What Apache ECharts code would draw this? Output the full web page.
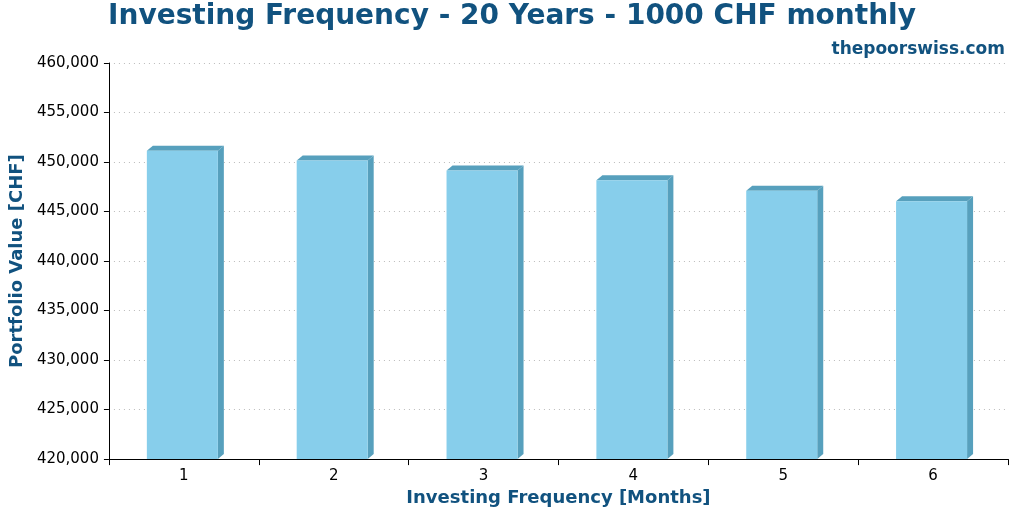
<!DOCTYPE html>
<html><head><meta charset="utf-8">
<script src="https://cdn.jsdelivr.net/npm/echarts@6/dist/echarts.min.js"></script>
<style>html,body{margin:0;padding:0;background:#fff}#c{width:1024px;height:512px}</style>
</head><body><div id="c"></div>
<script>
const categories = ['1','2','3','4','5','6'];
const values = [451150, 450150, 449150, 448150, 447100, 446050];
const yTicks = {min:420000, max:460000, interval:5000};
const chart = echarts.init(document.getElementById('c'));
const blue = '#11527f';
chart.setOption({
  animation:false,
  title:[{text:'Investing Frequency - 20 Years - 1000 CHF monthly',left:'center',top:-2,
    textStyle:{color:blue,fontSize:28,fontWeight:'bold',fontFamily:'DejaVu Sans'}},
    {text:'thepoorswiss.com',right:14,top:36,textStyle:{color:blue,fontSize:17,fontWeight:'bold',fontFamily:'DejaVu Sans'}}],
  grid:{left:100,right:16,top:63,bottom:52},
  xAxis:{type:'category',data:categories,name:'Investing Frequency [Months]',nameLocation:'middle',nameGap:28,
    nameTextStyle:{color:blue,fontSize:18,fontWeight:'bold',fontFamily:'DejaVu Sans'},
    axisLine:{lineStyle:{color:'#000'}},axisTick:{show:true,length:6,lineStyle:{color:'#000'}},
    axisLabel:{color:'#000',fontSize:15,fontFamily:'DejaVu Sans',margin:10}},
  yAxis:{type:'value',min:yTicks.min,max:yTicks.max,interval:yTicks.interval,name:'Portfolio Value [CHF]',
    nameLocation:'middle',nameGap:78,nameTextStyle:{color:blue,fontSize:18,fontWeight:'bold',fontFamily:'DejaVu Sans'},
    axisLine:{show:true,lineStyle:{color:'#000'}},axisTick:{show:true,length:5,lineStyle:{color:'#000'}},
    axisLabel:{color:'#000',fontSize:15,fontFamily:'DejaVu Sans',margin:10},
    splitLine:{lineStyle:{color:'#bbb',type:[1,4]}}},
  series:[{type:'custom',data:values.map((v,i)=>[i,v]),
    renderItem:function(params,api){
      const top=api.coord([api.value(0),api.value(1)]);
      const bot=api.coord([api.value(0),yTicks.min]);
      const w=71,d=6,cx=top[0]-1.5;
      const x0=cx-w/2,x1=cx+w/2;
      return {type:'group',children:[
        {type:'polygon',shape:{points:[[x1,top[1]],[x1+d,top[1]-5],[x1+d,bot[1]-5],[x1,bot[1]]]},style:{fill:'#57a0bd'}},
        {type:'polygon',shape:{points:[[x0,top[1]],[x0+d,top[1]-5],[x1+d,top[1]-5],[x1,top[1]]]},style:{fill:'#57a0bd'}},
        {type:'rect',shape:{x:x0,y:top[1],width:w,height:bot[1]-top[1]},style:{fill:'#87ceeb'}}
      ]};
    }}]
});
</script></body></html>
